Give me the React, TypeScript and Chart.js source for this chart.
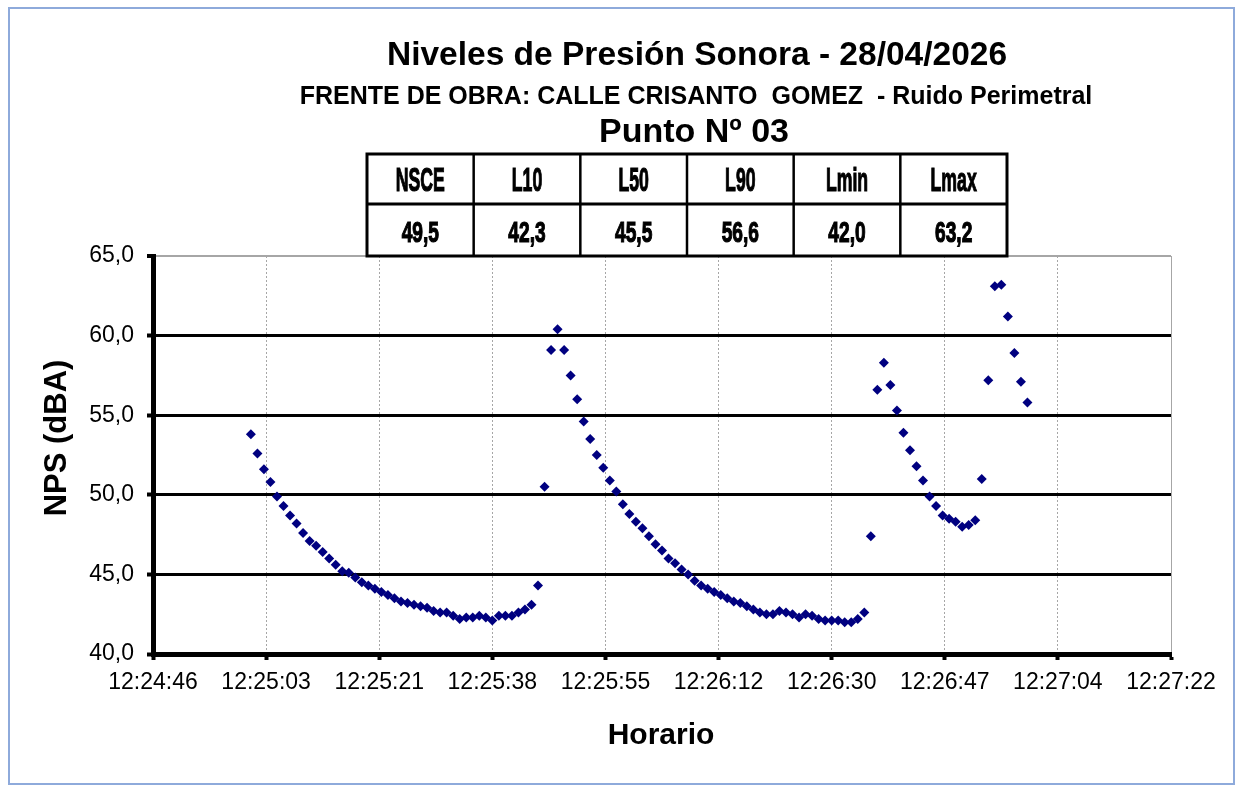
import React, { useEffect, useRef } from "react";
import { Chart, registerables } from "chart.js";

Chart.register(...registerables);

const FONT = "'Liberation Sans', Arial, Helvetica, sans-serif";

const chartTitle = "Niveles de Presión Sonora - 28/04/2026";
const chartSubtitle = "FRENTE DE OBRA: CALLE CRISANTO  GOMEZ  - Ruido Perimetral";
const pointLabel = "Punto Nº 03";
const xAxisTitle = "Horario";
const yAxisTitle = "NPS (dBA)";

const statHeaders = ["NSCE", "L10", "L50", "L90", "Lmin", "Lmax"];
const statValues = ["49,5", "42,3", "45,5", "56,6", "42,0", "63,2"];

const xTickLabels = [
  "12:24:46", "12:25:03", "12:25:21", "12:25:38", "12:25:55",
  "12:26:12", "12:26:30", "12:26:47", "12:27:04", "12:27:22",
];
const axisStartTime = "12:24:46";
const axisEndTime = "12:27:22";

const yMin = 40;
const yMax = 65;
const yStep = 5;

// one reading per second, starting at this time
const firstSampleTime = "12:25:01";
const sampleIntervalSec = 1;

const npsValues = [
  53.8, 52.6, 51.6, 50.8, 49.9, 49.3, 48.7, 48.2, 47.6, 47.1,
  46.8, 46.4, 46.0, 45.6, 45.2, 45.1, 44.8, 44.5, 44.3, 44.1,
  43.9, 43.7, 43.5, 43.3, 43.2, 43.1, 43.0, 42.9, 42.7, 42.6,
  42.6, 42.4, 42.2, 42.3, 42.3, 42.4, 42.3, 42.1, 42.4, 42.4,
  42.4, 42.6, 42.8, 43.1, 44.3, 50.5, 59.1, 60.4, 59.1, 57.5,
  56.0, 54.6, 53.5, 52.5, 51.7, 50.9, 50.2, 49.4, 48.8, 48.3,
  47.9, 47.4, 46.9, 46.5, 46.0, 45.7, 45.3, 45.0, 44.6, 44.3,
  44.1, 43.9, 43.7, 43.5, 43.3, 43.2, 43.0, 42.8, 42.6, 42.5,
  42.5, 42.7, 42.6, 42.5, 42.3, 42.5, 42.4, 42.2, 42.1, 42.1,
  42.1, 42.0, 42.0, 42.2, 42.6, 47.4, 56.6, 58.3, 56.9, 55.3,
  53.9, 52.8, 51.8, 50.9, 49.9, 49.3, 48.7, 48.5, 48.3, 48.0,
  48.1, 48.4, 51.0, 57.2, 63.1, 63.2, 61.2, 58.9, 57.1, 55.8,
];

const toSec = (t: string) => {
  const [h, m, s] = t.split(":").map(Number);
  return h * 3600 + m * 60 + s;
};

const overlayPlugin = {
  id: "overlay",
  afterDraw(chart: any) {
    const ctx: CanvasRenderingContext2D = chart.ctx;
    ctx.save();
    // outer frame
    ctx.strokeStyle = "#8eaadb";
    ctx.lineWidth = 2;
    ctx.strokeRect(9, 8, 1225, 776);

    ctx.fillStyle = "#000";
    ctx.textAlign = "center";
    ctx.textBaseline = "alphabetic";
    ctx.font = `bold 33.5px ${FONT}`;
    ctx.fillText(chartTitle, 697, 65);
    ctx.font = `bold 25px ${FONT}`;
    ctx.fillText(chartSubtitle, 696, 104);
    ctx.font = `bold 34px ${FONT}`;
    ctx.fillText(pointLabel, 694, 142);

    // stats table
    const left = 367;
    const right = 1007;
    const top = 154;
    const mid = 204;
    const bottom = 256;
    const colW = (right - left) / statHeaders.length;
    ctx.fillStyle = "#fff";
    ctx.fillRect(left, top, right - left, bottom - top);
    ctx.strokeStyle = "#000";
    ctx.lineWidth = 2.5;
    for (let i = 1; i < statHeaders.length; i++) {
      const x = left + i * colW;
      ctx.beginPath();
      ctx.moveTo(x, top);
      ctx.lineTo(x, bottom);
      ctx.stroke();
    }
    ctx.lineWidth = 3;
    ctx.beginPath();
    ctx.moveTo(left, mid);
    ctx.lineTo(right, mid);
    ctx.stroke();
    ctx.strokeRect(left, top, right - left, bottom - top);

    ctx.fillStyle = "#000";
    const drawCondensed = (text: string, cx: number, by: number, size: number, sx: number) => {
      ctx.save();
      ctx.font = `bold ${size}px ${FONT}`;
      ctx.translate(cx, by);
      ctx.scale(sx, 1);
      ctx.textAlign = "center";
      ctx.lineWidth = 1.2;
      ctx.strokeStyle = "#000";
      ctx.strokeText(text, 0, 0);
      ctx.fillText(text, 0, 0);
      ctx.restore();
    };
    statHeaders.forEach((h, i) => drawCondensed(h, left + (i + 0.5) * colW, 191, 34, 0.52));
    statValues.forEach((v, i) => drawCondensed(v, left + (i + 0.5) * colW, 242, 30, 0.64));

    // axis titles
    ctx.font = `bold 30px ${FONT}`;
    ctx.textAlign = "center";
    ctx.fillText(xAxisTitle, 661, 744);
    ctx.save();
    ctx.translate(66, 438);
    ctx.rotate(-Math.PI / 2);
    ctx.font = `bold 31px ${FONT}`;
    ctx.fillText(yAxisTitle, 0, 0);
    ctx.restore();

    ctx.restore();
  },
};

export default function App() {
  const canvasRef = useRef<HTMLCanvasElement | null>(null);

  useEffect(() => {
    if (!canvasRef.current) return;
    const xMin = toSec(axisStartTime);
    const xMax = toSec(axisEndTime);
    const t0 = toSec(firstSampleTime);
    const points = npsValues.map((v, i) => ({ x: t0 + i * sampleIntervalSec, y: v }));

    const chart = new Chart(canvasRef.current, {
      type: "scatter",
      data: {
        datasets: [
          {
            label: "NPS",
            data: points,
            pointStyle: "rectRot",
            pointRadius: 5,
            pointHoverRadius: 5,
            backgroundColor: "#000080",
            borderColor: "#000080",
            borderWidth: 0,
            showLine: false,
          },
        ],
      },
      options: {
        animation: false,
        responsive: false,
        devicePixelRatio: 1,
        layout: { padding: { top: 256, right: 72, bottom: 0, left: 0 } },
        plugins: {
          legend: { display: false },
          tooltip: { enabled: false },
          title: { display: false },
        },
        scales: {
          x: {
            type: "linear",
            min: xMin,
            max: xMax,
            afterBuildTicks: (scale: any) => {
              const n = xTickLabels.length - 1;
              scale.ticks = xTickLabels.map((_, i) => ({ value: xMin + (i * (xMax - xMin)) / n }));
            },
            afterFit: (scale: any) => {
              scale.height = 133;
            },
            ticks: {
              autoSkip: false,
              maxRotation: 0,
              minRotation: 0,
              padding: 9,
              color: "#000",
              font: { family: FONT, size: 23 },
              callback: (_v: any, i: number) => xTickLabels[i],
            },
            grid: {
              color: "#a6a6a6",
              lineWidth: 1,
              tickLength: 6,
              tickWidth: 4,
              tickColor: "#000",
            },
            border: {
              color: "#000",
              width: 5,
              dash: (c: any) => (c.index === xTickLabels.length - 1 ? [] : [2, 2]),
            },
          },
          y: {
            min: yMin,
            max: yMax,
            afterFit: (scale: any) => {
              scale.width = 153;
            },
            ticks: {
              stepSize: yStep,
              padding: 13,
              color: "#000",
              font: { family: FONT, size: 23 },
              callback: (v: any) => Number(v).toFixed(1).replace(".", ","),
            },
            grid: {
              color: (c: any) => (c.tick && c.tick.value === yMax ? "#a6a6a6" : "#000"),
              lineWidth: (c: any) => (c.tick && c.tick.value === yMax ? 2 : 3),
              tickLength: 6,
              tickWidth: 4,
              tickColor: "#000",
            },
            border: { color: "#000", width: 5 },
          },
        },
      },
      plugins: [overlayPlugin],
    } as any);

    return () => chart.destroy();
  }, []);

  return (
    <div style={{ position: "absolute", left: 0, top: 0, width: 1243, height: 787, background: "#fff" }}>
      <canvas ref={canvasRef} width={1243} height={787} style={{ width: 1243, height: 787 }} />
    </div>
  );
}
